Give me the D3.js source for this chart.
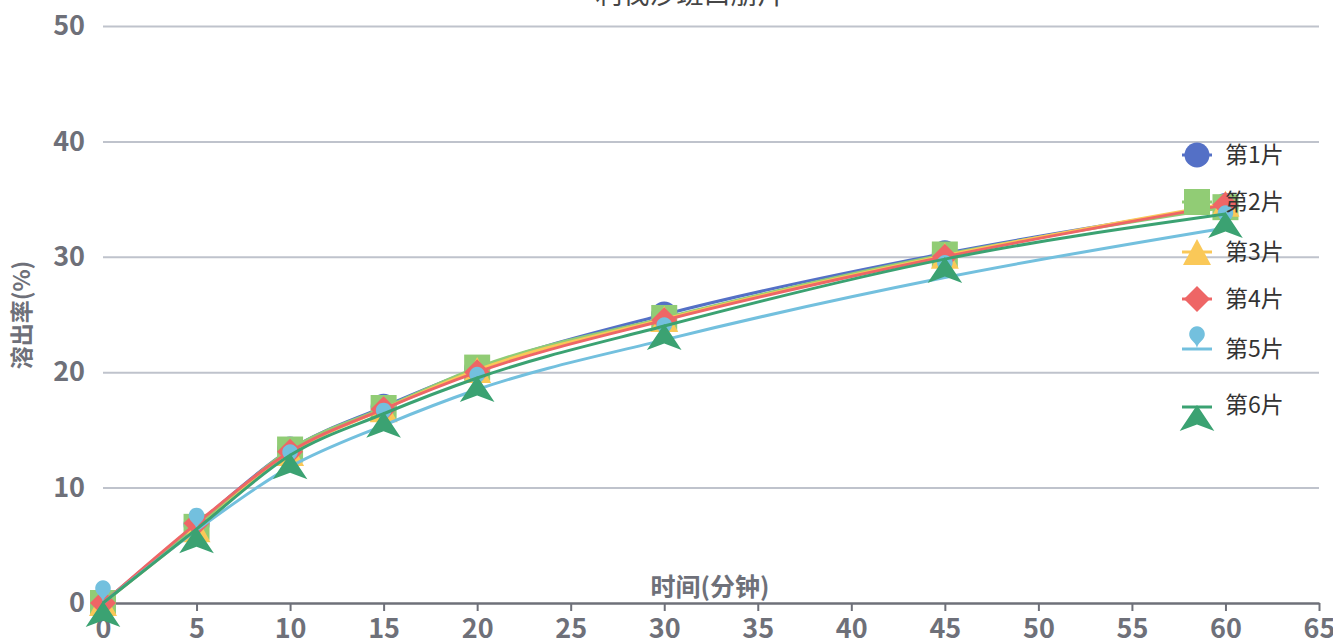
<!DOCTYPE html>
<html lang="zh">

<head>
  <meta http-equiv="Content-Type" content="text/html; charset=utf-8" />
  <script src="https://d3js.org/d3.v7.min.js"></script>
  <style>
    body { margin: 0; background: #fff; }
    text { font-family: "Noto Sans CJK SC", "Noto Sans", sans-serif; }
  </style>
</head>

<body>
  <div id="chart"></div>

  <script>
    const title = "利伐沙班口崩片";
    const xName = "时间(分钟)";
    const yName = "溶出率(%)";

    // sampling times (min)
    const times = [0, 5, 10, 15, 20, 30, 45, 60];
    const seriesNames = ["第1片", "第2片", "第3片", "第4片", "第5片", "第6片"];
    const tablet1 = [0, 6.8, 13.3, 17.0, 20.3, 25.0, 30.3, 34.4];
    const tablet2 = [0, 6.6, 13.3, 16.9, 20.4, 24.7, 30.2, 34.3];
    const tablet3 = [0, 6.4, 13.0, 16.8, 20.2, 24.6, 30.1, 34.6];
    const tablet4 = [0, 6.9, 13.1, 16.8, 20.0, 24.5, 30.0, 34.5];
    const tablet5 = [0, 6.3, 11.8, 15.4, 18.5, 22.8, 28.2, 32.5];
    const tablet6 = [0, 6.4, 12.8, 16.4, 19.5, 24.0, 29.8, 33.7];
    const xTicks = [0, 5, 10, 15, 20, 25, 30, 35, 40, 45, 50, 55, 60, 65];
    const yTicks = [0, 10, 20, 30, 40, 50];

    const allSeries = [tablet1, tablet2, tablet3, tablet4, tablet5, tablet6];
    const colors = ["#5470c6", "#91cc75", "#fac858", "#ee6666", "#73c0de", "#3ba272"];
    const symbols = ["circle", "rect", "triangle", "diamond", "pin", "arrow"];

    const W = 1333, H = 642;
    const plotLeft = 103, plotRight = 1319, plotTop = 26, plotBottom = 603;
    const symSize = 26;
    const axisColor = "#6e7079";

    const svg = d3.select("#chart").append("svg")
      .attr("width", W).attr("height", H);

    const x = d3.scaleLinear().domain([0, 65]).range([plotLeft, plotRight]);
    const y = d3.scaleLinear().domain([0, 50]).range([plotBottom, plotTop]);

    // symbol path, anchored on (0,0)
    function symbolPath(type, s) {
      const h = s / 2;
      if (type === "circle") {
        return `M${-h},0A${h},${h} 0 1,1 ${h},0A${h},${h} 0 1,1 ${-h},0Z`;
      }
      if (type === "rect") return `M${-h},${-h}H${h}V${h}H${-h}Z`;
      if (type === "triangle") return `M0,${-h}L${h + 1},${h}L${-h - 1},${h}Z`;
      if (type === "diamond") return `M0,${-h}L${h},0L0,${h}L${-h},0Z`;
      if (type === "pin") {
        // tip on the anchor, head above it
        const w = s / 5 * 3, r = w / 2;
        const dy = r * r / (s - r);
        const cy = -s + r + dy;
        const a = Math.asin(dy / r);
        const dx = Math.cos(a) * r;
        const tx = Math.sin(a), ty = Math.cos(a);
        const c1 = r * 0.6, c2 = r * 0.7;
        const p = d3.path();
        p.moveTo(-dx, cy + dy);
        p.arc(0, cy, r, Math.PI - a, Math.PI * 2 + a);
        p.bezierCurveTo(dx - tx * c1, cy + dy + ty * c1, 0, -c2, 0, 0);
        p.bezierCurveTo(0, -c2, -dx + tx * c1, cy + dy + ty * c1, -dx, cy + dy);
        p.closePath();
        return p.toString();
      }
      if (type === "arrow") {
        const dx = s / 3 * 2, t = -2;
        return `M0,${t}L${dx},${t + s}L0,${t + s * 0.75}L${-dx},${t + s}Z`;
      }
      return "";
    }

    // title (cut by top edge)
    svg.append("text")
      .attr("x", 690).attr("y", 4)
      .attr("text-anchor", "middle")
      .attr("font-size", 27)
      .attr("fill", "#464646")
      .text(title);

    // y axis with grid lines
    svg.append("g")
      .attr("transform", `translate(${plotLeft},0)`)
      .call(d3.axisLeft(y).tickValues(yTicks).tickSize(-(plotRight - plotLeft)).tickPadding(18))
      .call(g => g.select(".domain").remove())
      .call(g => g.selectAll(".tick line")
        .attr("stroke", "#bfc3cc")
        .attr("stroke-width", 2)
        .filter(d => d === 0).remove())
      .call(g => g.selectAll(".tick text")
        .attr("font-family", "'Noto Sans CJK SC', sans-serif")
        .attr("font-size", 27)
        .attr("font-weight", "bold")
        .attr("fill", axisColor));

    // x axis
    svg.append("g")
      .attr("transform", `translate(0,${plotBottom})`)
      .call(d3.axisBottom(x).tickValues(xTicks).tickSize(8).tickSizeOuter(0).tickPadding(8))
      .call(g => g.select(".domain").attr("stroke", axisColor).attr("stroke-width", 2.5))
      .call(g => g.selectAll(".tick line").attr("stroke", axisColor).attr("stroke-width", 2))
      .call(g => g.selectAll(".tick text")
        .attr("font-family", "'Noto Sans CJK SC', sans-serif")
        .attr("font-size", 27)
        .attr("font-weight", "bold")
        .attr("fill", axisColor));

    // axis names
    svg.append("text")
      .attr("x", 710).attr("y", 596)
      .attr("text-anchor", "middle")
      .attr("font-size", 25)
      .attr("font-weight", "bold")
      .attr("fill", axisColor)
      .text(xName);

    svg.append("text")
      .attr("transform", "translate(30,315) rotate(-90)")
      .attr("text-anchor", "middle")
      .attr("font-size", 23)
      .attr("font-weight", "bold")
      .attr("fill", axisColor)
      .text(yName);

    // series: line then symbols, drawn in order
    const line = d3.line()
      .x((d, i) => x(times[i]))
      .y(d => y(d))
      .curve(d3.curveMonotoneX);

    const plot = svg.append("g");
    allSeries.forEach((vals, k) => {
      const g = plot.append("g");
      g.append("path")
        .attr("d", line(vals))
        .attr("fill", "none")
        .attr("stroke", colors[k])
        .attr("stroke-width", 3);
      g.selectAll("path.sym")
        .data(vals)
        .join("path")
        .attr("class", "sym")
        .attr("transform", (d, i) => `translate(${x(times[i])},${y(d)})`)
        .attr("d", symbolPath(symbols[k], symSize))
        .attr("fill", colors[k]);
    });

    // legend
    const legendY = [155, 202, 252, 299, 349, 407];
    const legend = svg.append("g");
    seriesNames.forEach((name, k) => {
      const g = legend.append("g").attr("transform", `translate(1197,${legendY[k]})`);
      g.append("line")
        .attr("x1", -15).attr("x2", 15)
        .attr("stroke", colors[k]).attr("stroke-width", 3);
      g.append("path")
        .attr("d", symbolPath(symbols[k], k === 0 ? 25 : symSize))
        .attr("fill", colors[k]);
      g.append("text")
        .attr("x", 28).attr("y", k === 5 ? -2 : 0)
        .attr("dy", "0.35em")
        .attr("font-size", 23)
        .attr("fill", "#333")
        .text(name);
    });
  </script>
</body>

</html>
